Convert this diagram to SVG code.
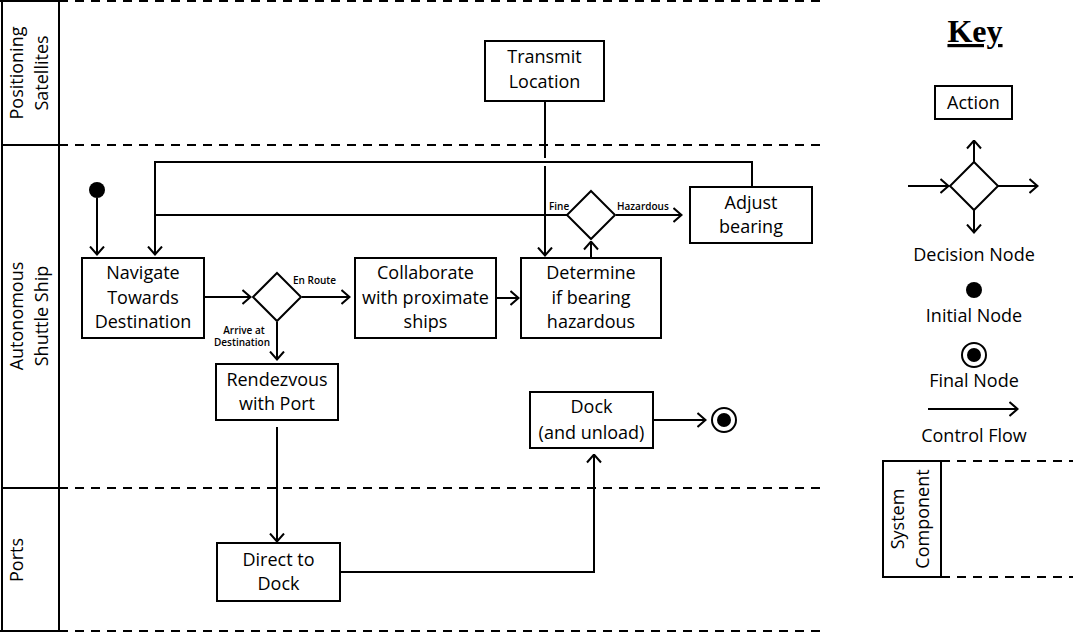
<svg xmlns="http://www.w3.org/2000/svg" width="1073" height="633" viewBox="0 0 1073 633">
<style>
.box{fill:#fff;stroke:#000;stroke-width:2}
.t{font-family:"Open Sans","Liberation Sans",sans-serif;font-size:18px;fill:#000;text-anchor:middle}
.s{font-family:"Open Sans","Liberation Sans",sans-serif;font-size:10px;font-weight:600;fill:#000}
.ln{fill:none;stroke:#000;stroke-width:2}
.fl{fill:none;stroke:#000;stroke-width:2;marker-end:url(#arr)}
.dash{fill:none;stroke:#000;stroke-width:2;stroke-dasharray:9 7}
</style>
<defs>
<marker id="arr" markerUnits="userSpaceOnUse" viewBox="0 0 10 16" refX="9.5" refY="8" markerWidth="10" markerHeight="16" orient="auto">
<path d="M1,1 L9,8 L1,15" fill="none" stroke="#000" stroke-width="2"/>
</marker>
</defs>
<rect width="1073" height="633" fill="#fff"/>

<g id="lanes">
<path class="ln" d="M0,1 H59 M2,0 V632 M59,0 V632 M2,145 H59 M2,488 H59 M0,631 H59"/>
<path class="dash" d="M59,1 H825 M59,145 H825 M59,488 H825 M59,631 H825"/>
<text class="t" transform="translate(23,73) rotate(-90)">Positioning</text>
<text class="t" transform="translate(48,73) rotate(-90)">Satellites</text>
<text class="t" transform="translate(23,316) rotate(-90)">Autonomous</text>
<text class="t" transform="translate(48,316) rotate(-90)">Shuttle Ship</text>
<text class="t" transform="translate(23,560) rotate(-90)">Ports</text>
</g>

<g id="connectors">
<path class="ln" d="M545,101 V158"/>
<path class="fl" d="M545,166 V256"/>
<path class="fl" d="M752,187 V162 H155 V255"/>
<path class="ln" d="M567,215 H155"/>
<path class="fl" d="M616,215 H682"/>
<path class="fl" d="M591,258 V241"/>
<path class="fl" d="M496,298 H519"/>
<path class="fl" d="M97,198 V255"/>
<path class="fl" d="M204,297 H251"/>
<path class="fl" d="M302,297 H350"/>
<path class="fl" d="M277,322 V360"/>
<path class="fl" d="M277,427 V542"/>
<path class="fl" d="M340,572 H594 V454"/>
<path class="fl" d="M653,420 H706"/>
<text class="s" x="549" y="210">Fine</text>
<text class="s" x="617" y="210">Hazardous</text>
<text class="s" x="293" y="284">En Route</text>
<text class="s" x="244" y="334" text-anchor="middle">Arrive at</text>
<text class="s" x="242" y="346" text-anchor="middle">Destination</text>
</g>

<g id="transmit">
<rect class="box" x="485" y="41" width="119" height="60"/>
<text class="t" x="544.5" y="63">Transmit</text>
<text class="t" x="544.5" y="88">Location</text>
</g>
<g id="adjust">
<rect class="box" x="690" y="187" width="122" height="56"/>
<text class="t" x="751" y="209">Adjust</text>
<text class="t" x="751" y="233">bearing</text>
</g>
<g id="decision2">
<path class="box" d="M591,191 L615,215 L591,239 L567,215 Z"/>
</g>
<g id="initial">
<circle cx="97" cy="190" r="8" fill="#000"/>
</g>
<g id="navigate">
<rect class="box" x="82" y="258" width="122" height="80"/>
<text class="t" x="143" y="279">Navigate</text>
<text class="t" x="143" y="304">Towards</text>
<text class="t" x="143" y="328">Destination</text>
</g>
<g id="decision1">
<path class="box" d="M277,273 L301,297 L277,321 L253,297 Z"/>
</g>
<g id="collaborate">
<rect class="box" x="355" y="258" width="141" height="80"/>
<text class="t" x="425.5" y="279">Collaborate</text>
<text class="t" x="425.5" y="304">with proximate</text>
<text class="t" x="425.5" y="328">ships</text>
</g>
<g id="determine">
<rect class="box" x="521" y="258" width="140" height="80"/>
<text class="t" x="591" y="279">Determine</text>
<text class="t" x="591" y="304">if bearing</text>
<text class="t" x="591" y="328">hazardous</text>
</g>
<g id="rendezvous">
<rect class="box" x="216" y="364" width="122" height="56"/>
<text class="t" x="277" y="386">Rendezvous</text>
<text class="t" x="277" y="410">with Port</text>
</g>
<g id="direct">
<rect class="box" x="217" y="543" width="123" height="58"/>
<text class="t" x="278.5" y="566">Direct to</text>
<text class="t" x="278.5" y="590">Dock</text>
</g>
<g id="dock">
<rect class="box" x="530" y="392" width="123" height="56"/>
<text class="t" x="591.5" y="413">Dock</text>
<text class="t" x="591.5" y="439">(and unload)</text>
</g>
<g id="final">
<circle cx="724" cy="420" r="12" fill="#fff" stroke="#000" stroke-width="2"/>
<circle cx="724" cy="420" r="7" fill="#000"/>
</g>

<g id="key">
<text x="975" y="42" font-family="Liberation Serif, serif" font-size="32" font-weight="bold" text-anchor="middle" text-decoration="underline">Key</text>
<rect class="box" x="935" y="86" width="77" height="33"/>
<text class="t" x="973.5" y="109">Action</text>
<path class="box" d="M974,162 L998,186 L974,210 L950,186 Z"/>
<path class="fl" d="M908,186 H949"/>
<path class="fl" d="M998,186 H1038"/>
<path class="fl" d="M974,162 V140"/>
<path class="fl" d="M974,210 V233"/>
<text class="t" x="974" y="261">Decision Node</text>
<circle cx="974" cy="290" r="8" fill="#000"/>
<text class="t" x="974" y="322">Initial Node</text>
<circle cx="974" cy="355" r="12" fill="#fff" stroke="#000" stroke-width="2"/>
<circle cx="974" cy="355" r="7" fill="#000"/>
<text class="t" x="974" y="387">Final Node</text>
<path class="fl" d="M928,409 H1018"/>
<text class="t" x="974" y="442">Control Flow</text>
<rect class="box" x="883" y="461" width="58" height="116"/>
<path class="dash" d="M941,461 H1073 M941,577 H1073"/>
<text class="t" transform="translate(904,519) rotate(-90)">System</text>
<text class="t" transform="translate(929,519) rotate(-90)">Component</text>
</g>
</svg>
